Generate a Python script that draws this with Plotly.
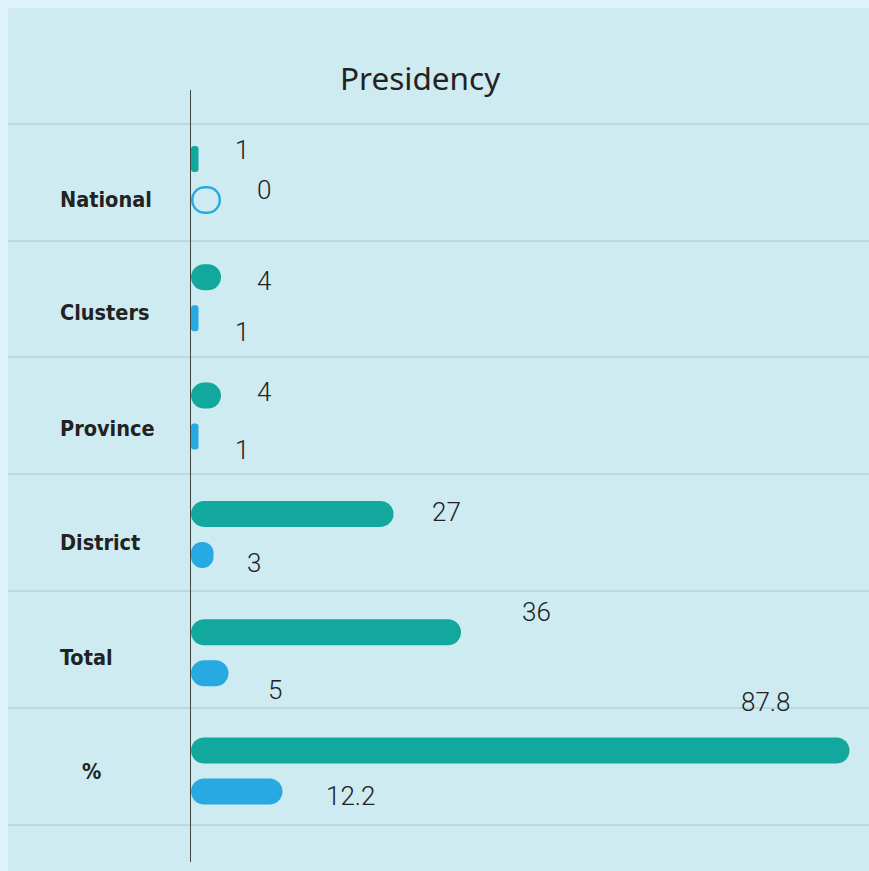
import plotly.graph_objects as go

# data
categories = ["National", "Clusters", "Province", "District", "Total", "%"]
green_vals = [1, 4, 4, 27, 36, 87.8]
blue_vals = [0, 1, 1, 3, 5, 12.2]
green_text = ["1", "4", "4", "27", "36", "87.8"]
blue_text = ["0", "1", "1", "3", "5", "12.2"]

# styling
GREEN = "#12a89d"
BLUE = "#27a9e1"
PANEL = "#cdebf0"
OUTER = "#dff3fa"
GRID = "#a9c6cc"
TEXT = "#222222"
ZERO_STUB = 4            # length (units) used to draw an empty pill for zero
W, H = 869, 871
L, R, T, B = 191, 0, 90, 9
PW, PH = W - L - R, H - T - B
PX_PER_UNIT = 7.5
PX_PER_CAT = 118.3
FIRST_CAT_PX = 179.5     # page y of first category centre

# layout pieces in page pixels
grid_px = [124, 241, 357, 474, 591, 708, 825]
green_off, blue_off = -20.5, 20.5
bar_px, ring_px, ring_inner_px = 26, 28, 23
# label offsets in px: (dx from bar end, dy from category centre)
green_lab = [(43.5, -29.5), (43, -17), (43, -24.5), (52.5, -22.5), (75, -40.5), (-83.5, -69)]
blue_lab = [(73, 10.5), (43.5, 34), (43.5, 33.5), (40.5, 28.5), (46.5, 37.5), (68.5, 25)]
cat_lab_dy = [19.5, 15, 12.5, 8.5, 4.5, 0]
cat_lab_x = [58, 58, 58, 58, 58, 80]


def px_x(p):
    return (p - L) / PW


def px_y(p):
    return (H - B - p) / PH


def u(px):
    return px / PX_PER_CAT


pos = list(range(len(categories)))


def pill(vals, off, thick, color, inset=0.0):
    return go.Bar(
        y=pos, x=[v - 2 * inset if v > 0 else None for v in vals], base=inset,
        orientation="h", width=u(thick), offset=u(off) - u(thick) / 2,
        marker=dict(color=color, cornerradius="50%", line=dict(width=0)),
        hoverinfo="skip",
    )


zero_vals = [ZERO_STUB if v == 0 else 0 for v in blue_vals]

fig = go.Figure()
fig.add_trace(pill(green_vals, green_off, bar_px, GREEN))
fig.add_trace(pill(blue_vals, blue_off, bar_px, BLUE))
fig.add_trace(pill(zero_vals, blue_off, ring_px, BLUE))
fig.add_trace(pill(zero_vals, blue_off, ring_inner_px, PANEL, inset=2.5 / PX_PER_UNIT))

value_font = dict(family="Roboto", size=26, color=TEXT, weight=300)
annotations = []
for i, (v, t, (dx, dy)) in enumerate(zip(green_vals, green_text, green_lab)):
    annotations.append(dict(x=v, y=i, xref="x", yref="y", text=t, showarrow=False,
                            xshift=dx, yshift=-dy, font=value_font))
for i, (v, t, (dx, dy)) in enumerate(zip(blue_vals, blue_text, blue_lab)):
    annotations.append(dict(x=v, y=i, xref="x", yref="y", text=t, showarrow=False,
                            xshift=dx, yshift=-dy, font=value_font))
for i, (cat, dy, lx) in enumerate(zip(categories, cat_lab_dy, cat_lab_x)):
    annotations.append(dict(x=px_x(lx), y=i, xref="paper", yref="y", text=cat,
                            showarrow=False, xanchor="left", yshift=-dy,
                            font=dict(family="DejaVu Sans Condensed, DejaVu Sans", size=21.5,
                                      color=TEXT, weight="bold")))
annotations.append(dict(x=px_x(420), y=px_y(78), xref="paper", yref="paper", text="Presidency",
                        showarrow=False, xanchor="center", yanchor="middle",
                        font=dict(family="Noto Sans", size=31.5, color=TEXT)))

shapes = [dict(type="rect", xref="paper", yref="paper", x0=px_x(8), x1=px_x(W + 2),
               y0=px_y(H + 2), y1=px_y(8), fillcolor=PANEL, line=dict(width=0), layer="below")]
for g in grid_px:
    shapes.append(dict(type="line", xref="paper", yref="paper", x0=px_x(8), x1=1,
                       y0=px_y(g), y1=px_y(g), line=dict(color=GRID, width=1), layer="below"))

fig.update_layout(
    width=W, height=H,
    margin=dict(l=L, r=R, t=T, b=B),
    paper_bgcolor=OUTER, plot_bgcolor="rgba(0,0,0,0)",
    barmode="overlay",
    showlegend=False,
    annotations=annotations, shapes=shapes,
)
fig.update_xaxes(range=[0, PW / PX_PER_UNIT], visible=False, showgrid=False, zeroline=False)
fig.update_yaxes(range=[(H - B - FIRST_CAT_PX) / PX_PER_CAT, -(FIRST_CAT_PX - T) / PX_PER_CAT],
                 showticklabels=False, showgrid=False, zeroline=False,
                 showline=True, linecolor="#444444", linewidth=1)

fig.write_html("out.html", config={"displayModeBar": False},
               post_script="document.body.style.margin='0';document.body.style.overflow='hidden';")
